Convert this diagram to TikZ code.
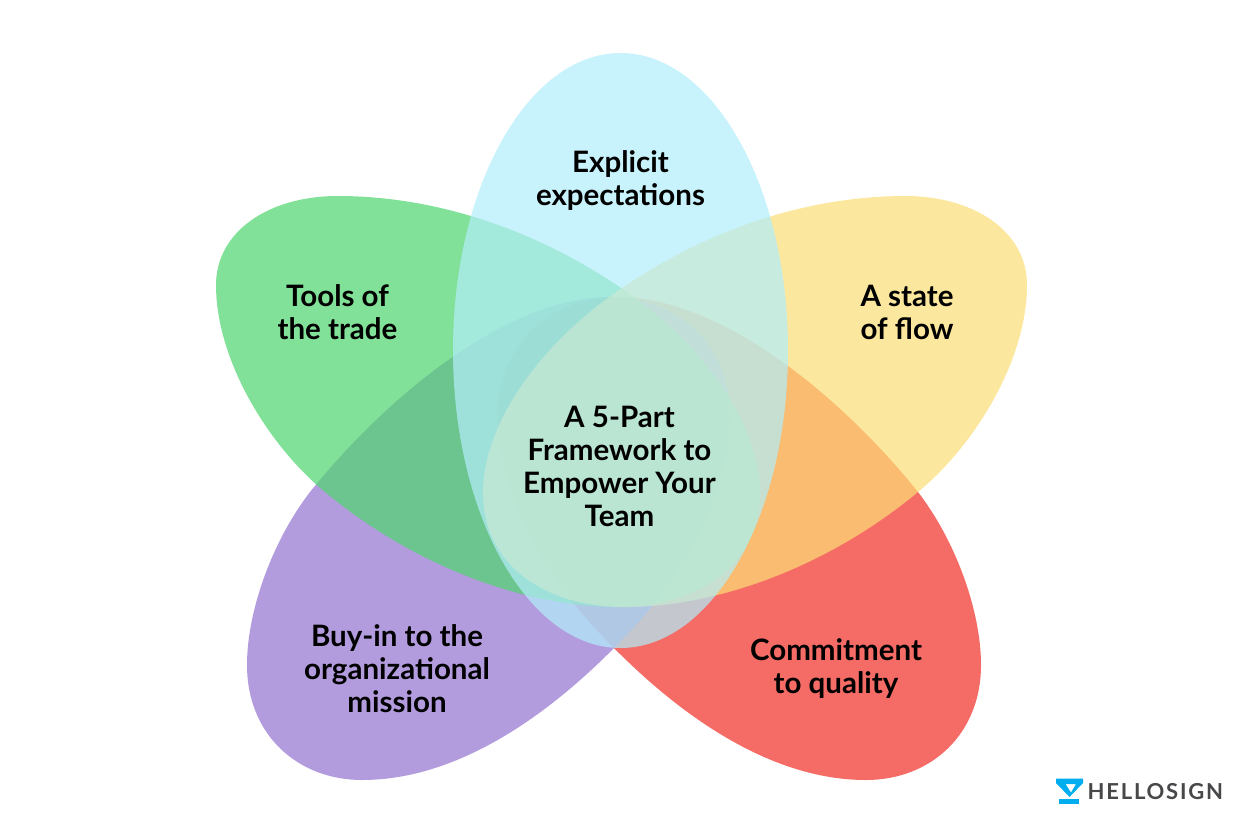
\documentclass[tikz,border=0pt]{standalone}
\usepackage{fontspec}
\setmainfont{Lato}
\newfontfamily\logofont[LetterSpace=8]{Lato}
\definecolor{petred}{RGB}{240,47,36}
\definecolor{petpurple}{RGB}{148,115,209}
\definecolor{petgreen}{RGB}{78,213,109}
\definecolor{petyellow}{RGB}{252,222,118}
\definecolor{petblue}{RGB}{178,238,251}
\definecolor{logoblue}{RGB}{0,174,239}
\definecolor{logogray}{RGB}{72,72,74}
\tikzset{
  petal/.style={fill=#1,fill opacity=0.7,draw=none},
  lab/.style={align=center,font=\fontsize{29.5}{33}\selectfont\bfseries,text=black,inner sep=0pt},
}
\begin{document}
\begin{tikzpicture}[x=1pt,y=-1pt]
\useasboundingbox (0,0) rectangle (1250,830);
\fill[white] (0,0) rectangle (1250,830);
% red
\fill[petal=petred] (498,415) .. controls (498,345) and (550,297) .. (618,297)
 .. controls (720,297) and (840,395) .. (918,492)
 .. controls (955,540) and (981,610) .. (981,665)
 .. controls (981,735) and (930,780) .. (866,780)
 .. controls (770,780) and (680,715) .. (613,647)
 .. controls (540,575) and (498,490) .. (498,415) -- cycle;
% purple
\begin{scope}[xshift=1228pt,x=-1pt]
\fill[petal=petpurple] (498,415) .. controls (498,345) and (550,297) .. (618,297)
 .. controls (720,297) and (840,395) .. (918,492)
 .. controls (955,540) and (981,610) .. (981,665)
 .. controls (981,735) and (930,780) .. (866,780)
 .. controls (770,780) and (680,715) .. (613,647)
 .. controls (540,575) and (498,490) .. (498,415) -- cycle;
\end{scope}
% green
\begin{scope}[xshift=1243pt,x=-1pt]
\fill[petal=petgreen] (905,196) .. controls (975,196) and (1027,232) .. (1027,285)
 .. controls (1027,360) and (975,445) .. (918,492)
 .. controls (830,565) and (720,607) .. (625,607)
 .. controls (545,607) and (483,565) .. (483,493)
 .. controls (483,420) and (545,340) .. (622,288)
 .. controls (710,228) and (810,196) .. (905,196) -- cycle;
\end{scope}
% yellow
\fill[petal=petyellow] (905,196) .. controls (975,196) and (1027,232) .. (1027,285)
 .. controls (1027,360) and (975,445) .. (918,492)
 .. controls (830,565) and (720,607) .. (625,607)
 .. controls (545,607) and (483,565) .. (483,493)
 .. controls (483,420) and (545,340) .. (622,288)
 .. controls (710,228) and (810,196) .. (905,196) -- cycle;
% blue
\fill[petal=petblue] (620.5,350.5) ellipse [x radius=167.5,y radius=297.5];
% labels
\node[lab] (expl) at (620.5,181) {Explicit\\expectations};
\node[lab] (tools) at (337.5,312) {Tools of\\the trade};
\node[lab] (flow) at (907,312) {A state\\of flow};
\node[lab] (center) at (619.5,466) {A 5-Part\\Framework to\\Empower Your\\Team};
\node[lab] (buy) at (397,669) {Buy-in to the\\organizational\\mission};
\node[lab] (commit) at (836,669) {Commitment\\to quality};
% logo
\fill[logoblue,even odd rule] (1056,778.5) -- (1083,778.5) -- (1083,783) -- (1069.5,797) -- (1056,783) -- cycle
  (1065.5,784) -- (1076,784) -- (1071,792.5) -- cycle;
\fill[logoblue] (1059,799) rectangle (1079,803.5);
\node[anchor=west,inner sep=0pt,text=logogray,font=\logofont\fontsize{22}{22}\selectfont\bfseries] (logo) at (1087.5,791.5) {HELLOSIGN};
\end{tikzpicture}
\end{document}
